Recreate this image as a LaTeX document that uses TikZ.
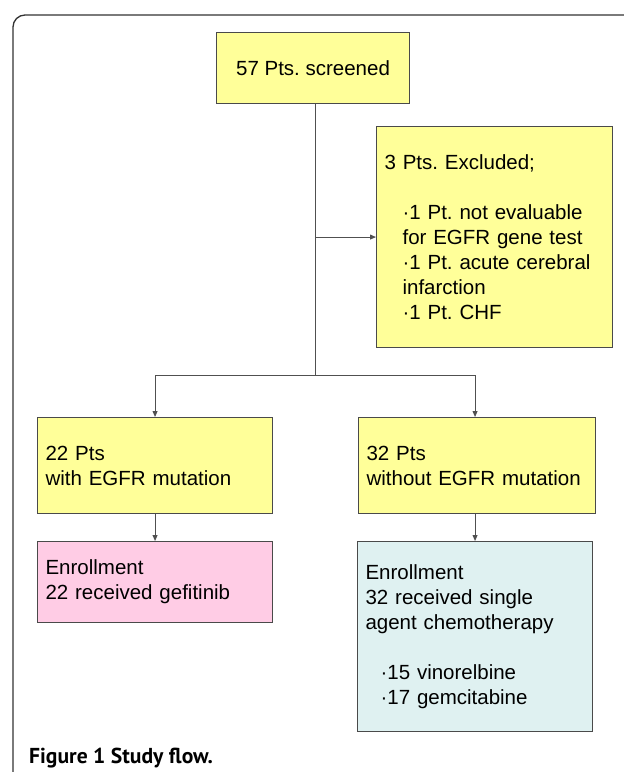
\documentclass[tikz,border=0pt]{standalone}
\usepackage{fontspec}
\setmainfont{Liberation Sans}
\newfontfamily\capfont{PT Sans}
\usetikzlibrary{positioning,arrows.meta,calc}
\definecolor{BoxYellow}{HTML}{FFFF99}
\definecolor{BoxPink}{HTML}{FFCCE5}
\definecolor{BoxCyan}{HTML}{DFF1F1}
\definecolor{Edge}{HTML}{4A4A4A}
\definecolor{Wire}{HTML}{505050}
\frenchspacing
\newcommand{\Body}{\fontsize{20.5}{25}\selectfont}
\newcommand{\Ind}{\hspace*{18pt}}
\tikzset{
  card/.style={draw=Edge, line width=1.1pt, fill=BoxYellow, anchor=north west,
               align=left, inner xsep=8pt, inner ysep=0pt, font=\Body},
  cardpink/.style={card, fill=BoxPink},
  cardcyan/.style={card, fill=BoxCyan},
  flow/.style={-{Triangle[length=6pt,width=5pt]}, line width=0.9pt, Wire},
  link/.style={line width=0.9pt, Wire},
}
\begin{document}
\begin{tikzpicture}[x=1pt,y=-1pt]
  \useasboundingbox (0,0) rectangle (624,772);
  \clip (0,0) rectangle (624,772);
  % panel frame
  \draw[line width=1.3pt, black!80, rounded corners=12pt] (13,15) rectangle (660,790);

  \node[card, align=center, inner xsep=0pt, minimum width=193pt, minimum height=71pt] (screen)
    at (216,32) {57 Pts. screened};
  \node[card, text width=220pt, minimum height=221pt] (excl) at (376,126)
    {3 Pts. Excluded;\\[25pt]
     \Ind{}·1 Pt. not evaluable\\
     \Ind{}for EGFR gene test\\
     \Ind{}·1 Pt. acute cerebral\\
     \Ind{}infarction\\
     \Ind{}·1 Pt. CHF};
  \node[card, text width=219pt, minimum height=96pt] (withmut) at (37,417)
    {22 Pts\\with EGFR mutation};
  \node[card, text width=221pt, minimum height=96pt] (nomut) at (358,417)
    {32 Pts\\without EGFR mutation};
  \node[cardpink, text width=219pt, minimum height=81pt] (gefit) at (37,541)
    {Enrollment\\22 received gefitinib};
  \node[cardcyan, text width=219pt, minimum height=190pt] (chemo) at (357,541)
    {Enrollment\\32 received single\\agent chemotherapy\\[25pt]
     \hspace*{15pt}·15 vinorelbine\\
     \hspace*{15pt}·17 gemcitabine};

  \coordinate (split) at (315,375);
  \draw[link] (split |- screen.south) -- (split);
  \draw[flow] (split |- excl.west) -- (excl.west);
  \draw[flow] (split) -| (withmut.north);
  \draw[flow] (split) -| (chemo.north |- nomut.north);
  \draw[flow] (withmut.south) -- (gefit.north);
  \draw[flow] (chemo.north |- nomut.south) -- (chemo.north);

  \node[anchor=base west, inner sep=0pt, font=\capfont\bfseries\fontsize{21.6}{24}\selectfont]
    (caption) at (29,763) {Figure 1 Study flow.};
\end{tikzpicture}
\end{document}
